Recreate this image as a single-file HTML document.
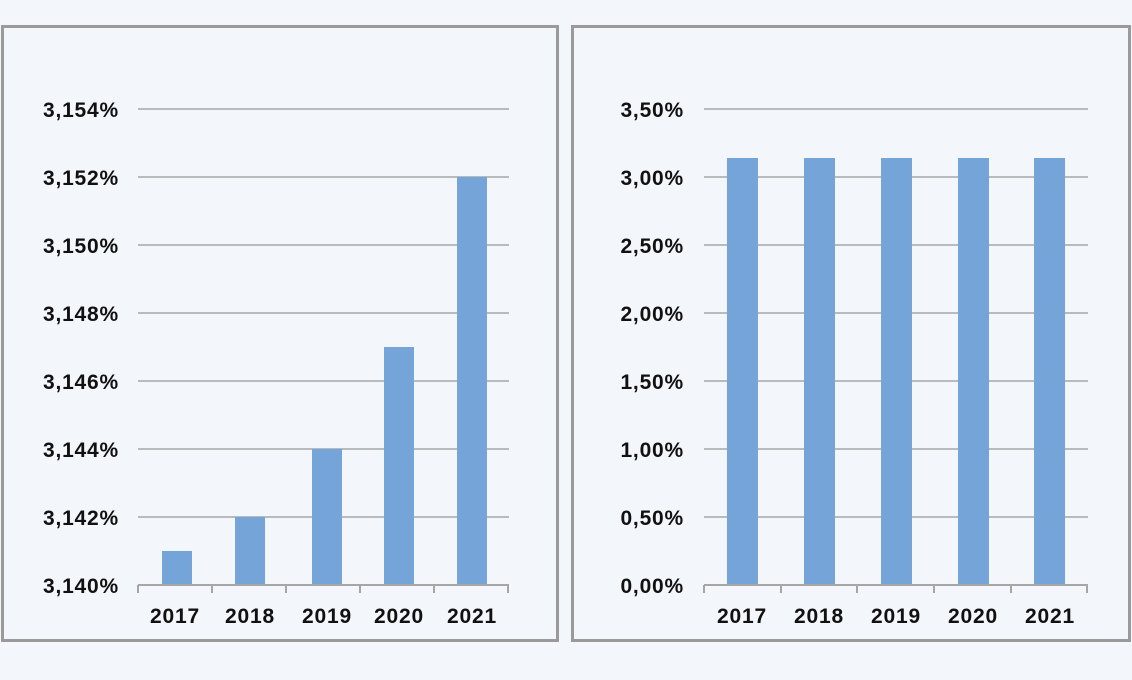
<!DOCTYPE html>
<html><head><style>
body{margin:0;background:#f3f6fb;}
svg{display:block;font-family:"Liberation Sans",sans-serif;font-weight:bold;}
</style></head><body>
<svg width="1132" height="680" xmlns="http://www.w3.org/2000/svg">
<rect width="1132" height="680" fill="#f3f6fb"/>
<rect x="2.5" y="26.5" width="555" height="614" fill="none" stroke="#9a9a9a" stroke-width="3"/>
<rect x="572.5" y="26.5" width="557" height="614" fill="none" stroke="#9a9a9a" stroke-width="3"/>
<g stroke="#a6a6a6" stroke-width="1.5">
<line x1="138" x2="509" y1="109" y2="109"/><line x1="138" x2="509" y1="177" y2="177"/>
<line x1="138" x2="509" y1="245" y2="245"/><line x1="138" x2="509" y1="313" y2="313"/>
<line x1="138" x2="509" y1="381" y2="381"/><line x1="138" x2="509" y1="449" y2="449"/>
<line x1="138" x2="509" y1="517" y2="517"/>
<line x1="704" x2="1088" y1="109" y2="109"/><line x1="704" x2="1088" y1="177" y2="177"/>
<line x1="704" x2="1088" y1="245" y2="245"/><line x1="704" x2="1088" y1="313" y2="313"/>
<line x1="704" x2="1088" y1="381" y2="381"/><line x1="704" x2="1088" y1="449" y2="449"/>
<line x1="704" x2="1088" y1="517" y2="517"/>
</g>
<g fill="#74a4d8">
<rect x="162" y="551" width="30" height="34"/><rect x="235" y="517" width="30" height="68"/>
<rect x="312" y="449" width="30" height="136"/><rect x="384" y="347" width="30" height="238"/>
<rect x="457" y="177" width="30" height="408"/>
<rect x="727" y="158" width="31" height="427"/><rect x="804" y="158" width="31" height="427"/>
<rect x="881" y="158" width="31" height="427"/><rect x="958" y="158" width="31" height="427"/>
<rect x="1034" y="158" width="31" height="427"/>
</g>
<g stroke="#a6a6a6" stroke-width="2" fill="none">
<path d="M138 585H509M138 585v8M212 585v8M286 585v8M360 585v8M434 585v8M508 585v8"/>
<path d="M704 585H1088M704 585v8M781 585v8M857 585v8M934 585v8M1011 585v8M1087 585v8"/>
</g>
<g font-size="21" text-anchor="end" fill="#111" letter-spacing="0.8">
<text x="119" y="117">3,154%</text><text x="119" y="185">3,152%</text>
<text x="119" y="253">3,150%</text><text x="119" y="321">3,148%</text>
<text x="119" y="389">3,146%</text><text x="119" y="457">3,144%</text>
<text x="119" y="525">3,142%</text><text x="119" y="593">3,140%</text>
<text x="684" y="117">3,50%</text><text x="684" y="185">3,00%</text>
<text x="684" y="253">2,50%</text><text x="684" y="321">2,00%</text>
<text x="684" y="389">1,50%</text><text x="684" y="457">1,00%</text>
<text x="684" y="525">0,50%</text><text x="684" y="593">0,00%</text>
</g>
<g font-size="21" text-anchor="middle" fill="#111" letter-spacing="0.8">
<text x="175" y="623">2017</text><text x="250" y="623">2018</text><text x="327" y="623">2019</text>
<text x="399" y="623">2020</text><text x="472" y="623">2021</text>
<text x="742" y="623">2017</text><text x="819" y="623">2018</text><text x="896" y="623">2019</text>
<text x="973" y="623">2020</text><text x="1050" y="623">2021</text>
</g>
</svg>
</body></html>
